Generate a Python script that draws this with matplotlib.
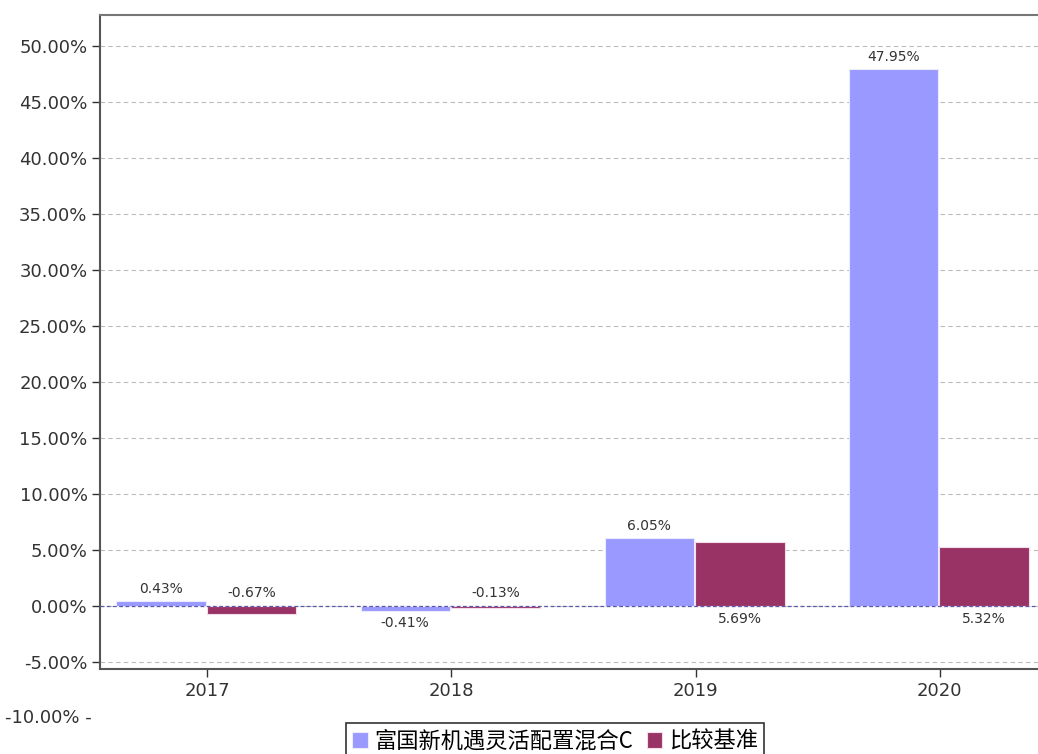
import numpy as np
import matplotlib
matplotlib.use('Agg')
from matplotlib import pyplot as plt
from matplotlib.ticker import FuncFormatter

# dữ liệu
years = ['2017', '2018', '2019', '2020']
fund = [0.43, -0.41, 6.05, 47.95]
bench = [-0.67, -0.13, 5.69, 5.32]
fund_name = '富国新机遇灵活配置混合C'
bench_name = '比较基准'

plt.rcParams['font.family'] = ['Noto Sans CJK SC', 'DejaVu Sans']

fig = plt.figure(figsize=(10.38, 7.54), dpi=100)
W, H = 1038, 754
# trục kéo dài ra ngoài mép phải như ảnh gốc
ax = fig.add_axes([100 / W, 1 - 669 / H, 947 / W, (669 - 15) / H])

x = np.arange(len(years))
bw = 0.365
ax.bar(x - 0.19, fund, bw, color='#9999FF', edgecolor='#ECECFF', linewidth=0.8,
       label=fund_name, zorder=3)
ax.bar(x + 0.182, bench, bw, color='#993366', edgecolor='#F4DDEA', linewidth=0.8,
       label=bench_name, zorder=3)

ax.set_xlim(-0.44, 3.44)
ax.set_ylim(-5.62, 52.8)
ax.set_yticks(np.arange(-5, 51, 5))
ax.yaxis.set_major_formatter(FuncFormatter(lambda v, p: '%.2f%%' % v))
ax.set_xticks(x)
ax.set_xticklabels(years)
ax.tick_params(axis='both', labelsize=13, colors='#333333', length=6, width=1,
               labelcolor='#333333', pad=3)
for lab in ax.get_yticklabels() + ax.get_xticklabels():
    lab.set_family('DejaVu Sans')

ax.grid(axis='y', color='#BBBBBB', linestyle=(0, (4, 3)), linewidth=0.8, zorder=0)
ax.axhline(0, color='#5A5AA8', linestyle=(0, (3, 2)), linewidth=0.9, zorder=4)

for side in ['left', 'bottom']:
    ax.spines[side].set_color('#555555')
    ax.spines[side].set_linewidth(1.5)
ax.spines['top'].set_color('#777777')
ax.spines['top'].set_linewidth(1.5)
ax.spines['right'].set_visible(False)

# nhãn giá trị
for i in range(len(years)):
    v = fund[i]
    yy = v + 0.5 if v >= 0 else v - 0.5
    ax.text(x[i] - 0.19, yy, '%.2f%%' % v, ha='center',
            va='bottom' if v >= 0 else 'top', fontsize=10, color='#333333',
            family='DejaVu Sans')
    v = bench[i]
    yy = 0.5 if v < 0 else -0.5
    ax.text(x[i] + 0.182, yy, '%.2f%%' % v, ha='center',
            va='bottom' if v < 0 else 'top', fontsize=10, color='#333333',
            family='DejaVu Sans')

fig.text(92 / W, 1 - 718 / H, '-10.00% -', ha='right', va='center', fontsize=13,
         color='#333333', family='DejaVu Sans')

leg = fig.legend(loc='upper center', bbox_to_anchor=(555 / W, 1 - 712 / H), ncol=2,
                 fontsize=16, frameon=True, fancybox=False, handlelength=0.7,
                 handleheight=0.7, handletextpad=0.3, columnspacing=0.6,
                 borderpad=0.3, edgecolor='black')
leg.get_frame().set_linewidth(1.2)

plt.savefig('out.png', dpi=100)
plt.close()
